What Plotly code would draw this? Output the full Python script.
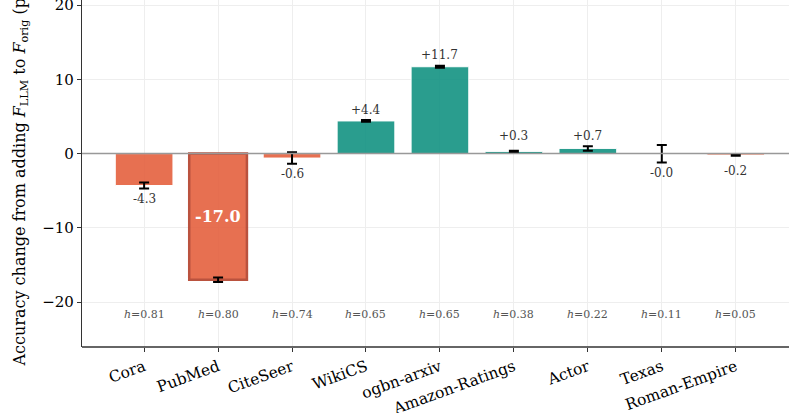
import plotly.graph_objects as go

# Per-dataset results: accuracy change (percentage points) and its spread
datasets = ["Cora", "PubMed", "CiteSeer", "WikiCS", "ogbn-arxiv",
            "Amazon-Ratings", "Actor", "Texas", "Roman-Empire"]
delta = [-4.3, -17.0, -0.6, 4.4, 11.7, 0.3, 0.7, -0.03, -0.2]
delta_err = [0.4, 0.3, 0.78, 0.12, 0.15, 0.1, 0.3, 1.18, 0.08]
homophily = [0.81, 0.80, 0.74, 0.65, 0.65, 0.38, 0.22, 0.11, 0.05]
highlight = "PubMed"

NEG_COLOR = "#E56443"
POS_COLOR = "#189585"
SERIF = "DejaVu Serif"

x = list(range(len(datasets)))
colors = [NEG_COLOR if v < 0 else POS_COLOR for v in delta]
edge_colors = ["#B5442E" if d == highlight else "white" for d in datasets]
edge_widths = [2.5 if d == highlight else 1 for d in datasets]

fig = go.Figure()
fig.add_trace(go.Bar(
    x=x, y=delta, width=0.78,
    marker=dict(color=colors, opacity=0.92,
                line=dict(color=edge_colors, width=edge_widths)),
    error_y=dict(type="data", array=delta_err, visible=True,
                 color="black", thickness=2, width=5),
    showlegend=False,
))

annotations = []
for i, (d, v, e, h) in enumerate(zip(datasets, delta, delta_err, homophily)):
    if d == highlight:
        annotations.append(dict(
            x=i, y=v / 2, text=f"<b>{v:+.1f}</b>", showarrow=False,
            font=dict(family=SERIF, size=16, color="white"),
            xanchor="center", yanchor="middle"))
    else:
        # value label just beyond the error bar, never too close to zero
        sign = 1 if v > 0 else -1
        pos = sign * (max(abs(v) + e, 1.0) + 1.4)
        annotations.append(dict(
            x=i, y=pos, text=f"{v:+.1f}", showarrow=False,
            font=dict(family=SERIF, size=12, color="#333333"),
            xanchor="center", yanchor="middle"))
    annotations.append(dict(
        x=i, y=-21.7, text=f"<i>h</i>={h:.2f}", showarrow=False,
        font=dict(family=SERIF, size=11, color="#555555"),
        xanchor="center", yanchor="middle"))

fig.update_layout(
    width=789, height=413,
    margin=dict(l=82, r=0, t=0, b=66),
    plot_bgcolor="white", paper_bgcolor="white",
    font=dict(family=SERIF, size=15, color="black"),
    annotations=annotations,
    shapes=[
        # zero reference line over the bars
        dict(type="line", xref="paper", x0=0, x1=1, y0=0, y1=0,
             line=dict(color="#999999", width=1.5), layer="above"),
        # bottom spine across the full plot width
        dict(type="line", xref="paper", yref="paper", x0=0, x1=1, y0=0, y1=0,
             line=dict(color="#333333", width=1.3), layer="above"),
    ],
    bargap=0.2,
)
fig.update_xaxes(
    range=[-0.84, 8.72], tickvals=x, ticktext=datasets, tickangle=-20,
    tickfont=dict(family=SERIF, size=15.5, color="black"),
    showgrid=True, gridcolor="#EEEEEE", gridwidth=1,
    showline=False,
    ticks="outside", ticklen=4, tickcolor="#333333", zeroline=False,
    automargin=False, ticklabeloverflow="allow",
)
fig.update_yaxes(
    range=[-26.05, 20.69], tickvals=[-20, -10, 0, 10, 20],
    tickfont=dict(family=SERIF, size=15, color="black"),
    showgrid=True, gridcolor="#EEEEEE", gridwidth=1,
    showline=True, linecolor="#333333", linewidth=1.3,
    ticks="outside", ticklen=4, tickcolor="#333333", zeroline=False,
    automargin=False, ticklabeloverflow="allow",
    title=dict(text="Accuracy change from adding <i>F</i><sub>LLM</sub> to "
                    "<i>F</i><sub>orig</sub> (pp)",
               font=dict(family=SERIF, size=16), standoff=12),
)

fig.write_html("out.html")
